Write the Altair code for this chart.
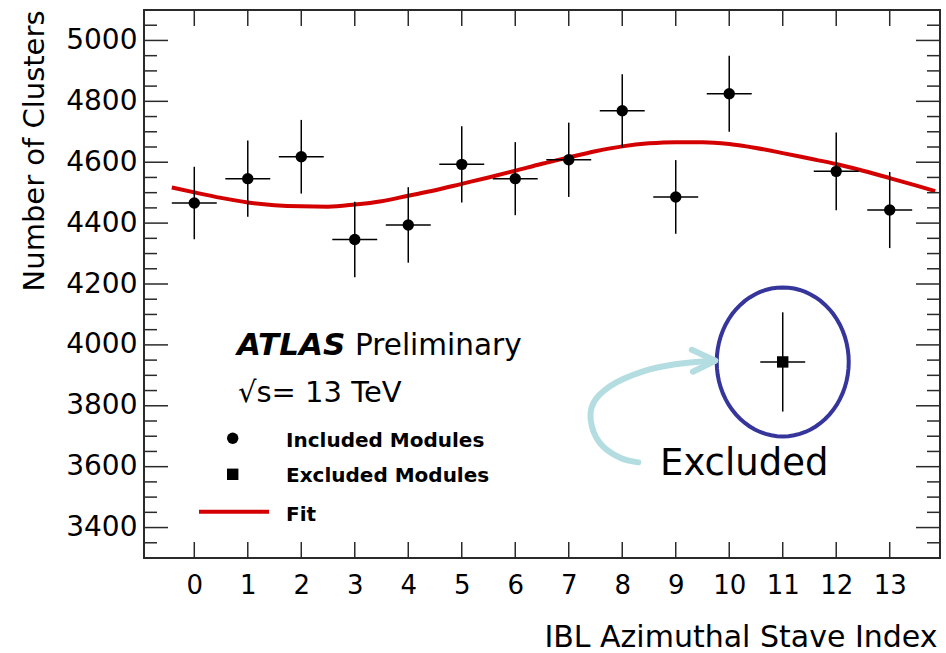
import altair as alt
import pandas as pd
import numpy as np

# ---------------- data ----------------
staves = list(range(14))
clusters = [4466, 4546, 4618, 4346, 4394, 4593, 4546, 4608, 4769, 4486, 4825, 3944, 4570, 4443]
errors = [119, 125, 121, 124, 124, 125, 120, 122, 120, 121, 125, 163, 128, 125]
status = ["Included"] * 11 + ["Excluded"] + ["Included"] * 2
x_half_width = 0.42

fit_x = [-0.42, 0, 0.5, 1, 1.5, 2, 2.5, 3, 3.5, 4, 4.5, 5, 5.5, 6, 6.5, 7, 7.5,
         8, 8.5, 9, 9.5, 10, 10.5, 11, 11.5, 12, 12.5, 13, 13.5, 13.85]
fit_y = [4517, 4501, 4483, 4468, 4459, 4455, 4454, 4461, 4472, 4490, 4508, 4529, 4550,
         4572, 4595, 4616, 4636, 4652, 4662, 4666, 4666, 4660, 4647, 4630, 4612, 4594,
         4572, 4548, 4523, 4505]

# annotation arrow (data coordinates)
arrow_x = [8.30, 7.96, 7.58, 7.41, 7.46, 7.77, 8.39, 9.02, 9.73]
arrow_y = [3614, 3629, 3678, 3754, 3809, 3864, 3913, 3937, 3949]
head_x = [9.30, 9.74, 9.32]
head_y = [3984, 3948, 3912]

x_ticks = staves
y_ticks_major = [3400, 3600, 3800, 4000, 4200, 4400, 4600, 4800, 5000]
y_ticks_minor = [3350, 3450, 3500, 3550, 3650, 3700, 3750, 3850, 3900, 3950, 4050, 4100,
                 4150, 4250, 4300, 4350, 4450, 4500, 4550, 4650, 4700, 4750, 4850, 4900,
                 4950, 5050]

# ---------------- layout ----------------
W, H = 796, 548
FONT = "DejaVu Sans"
FRAME = "#2a2a2a"
RED = "#d40000"

xscale = alt.Scale(domain=[-0.94, 13.94], nice=False, zero=False)
yscale = alt.Scale(domain=[3300, 5100], nice=False, zero=False)

x_axis = alt.Axis(values=x_ticks, ticks=False, domain=False, grid=False,
                  labelFont=FONT, labelFontSize=26, labelColor="black",
                  labelBaseline="alphabetic", labelPadding=35, labelFlush=False,
                  labelOverlap=False, title="IBL Azimuthal Stave Index",
                  titleFont=FONT, titleFontSize=30, titleFontWeight="normal",
                  titleColor="black", titleX=793, titleY=88, titleAlign="right",
                  titleBaseline="alphabetic")
y_axis = alt.Axis(values=y_ticks_major, format="d", ticks=False, domain=False, grid=False,
                  labelFont=FONT, labelFontSize=28, labelColor="black",
                  labelPadding=7, labelBaseline="middle",
                  title="Number of Clusters", titleFont=FONT, titleFontSize=29,
                  titleFontWeight="normal", titleColor="black", titleAngle=270,
                  titleX=-101, titleY=0, titleAlign="right", titleBaseline="alphabetic")


def X(field):
    return alt.X(field, scale=xscale, axis=x_axis)


def Y(field):
    return alt.Y(field, scale=yscale, axis=y_axis)


df = pd.DataFrame({"stave": staves, "n": clusters, "err": errors, "status": status})
df["lo"] = df["n"] - df["err"]
df["hi"] = df["n"] + df["err"]
df["xl"] = df["stave"] - x_half_width
df["xr"] = df["stave"] + x_half_width

fit_df = pd.DataFrame({"x": fit_x, "y": fit_y})
arrow_df = pd.DataFrame({"x": arrow_x, "y": arrow_y, "i": range(len(arrow_x))})
head_df = pd.DataFrame({"x": head_x, "y": head_y, "i": range(len(head_x))})

# fit curve
fit = alt.Chart(fit_df).mark_line(color=RED, strokeWidth=4, interpolate="monotone").encode(
    x=X("x:Q"), y=Y("y:Q"))

# error bars and points
ebar_v = alt.Chart(df).mark_rule(color="black", strokeWidth=1.5).encode(
    x=X("stave:Q"), y=Y("lo:Q"), y2="hi:Q")
ebar_h = alt.Chart(df).mark_rule(color="black", strokeWidth=1.5).encode(
    x=X("xl:Q"), x2="xr:Q", y=Y("n:Q"))
included = alt.Chart(df).transform_filter(alt.datum.status == "Included").mark_point(
    shape="circle", filled=True, color="black", size=130, opacity=1).encode(
    x=X("stave:Q"), y=Y("n:Q"))
excluded = alt.Chart(df).transform_filter(alt.datum.status == "Excluded").mark_point(
    shape="square", filled=True, color="black", size=130, opacity=1).encode(
    x=X("stave:Q"), y=Y("n:Q"))

# ellipse around the excluded module
t = np.linspace(0, 2 * np.pi, 73)
ell_path = "M " + " L ".join(f"{0.886*np.cos(a):.4f} {np.sin(a):.4f}" for a in t) + " Z"
ellipse = alt.Chart(df).transform_filter(alt.datum.status == "Excluded").mark_point(
    shape=ell_path, filled=False, stroke="#35359b", strokeWidth=4, size=149 ** 2, opacity=1).encode(
    x=X("stave:Q"), y=Y("n:Q"))

ARROW = "#b3dde0"
arrow = alt.Chart(arrow_df).mark_line(color=ARROW, strokeWidth=6, strokeCap="round",
                                      interpolate="catmull-rom").encode(
    x=X("x:Q"), y=Y("y:Q"), order="i:Q")
head = alt.Chart(head_df).mark_line(color=ARROW, strokeWidth=6, strokeCap="round",
                                    strokeJoin="round").encode(
    x=X("x:Q"), y=Y("y:Q"), order="i:Q")

# inward ticks
ymaj = pd.DataFrame({"v": y_ticks_major})
ymin = pd.DataFrame({"v": y_ticks_minor})
xt = pd.DataFrame({"v": x_ticks})
TK = dict(color=FRAME, strokeWidth=1.5)


def ytick(data, x0, x1):
    return alt.Chart(data).mark_rule(**TK).encode(
        y=Y("v:Q"), x=alt.value(x0), x2=alt.value(x1))


def xtick(data, y0, y1):
    return alt.Chart(data).mark_rule(**TK).encode(
        x=X("v:Q"), y=alt.value(y0), y2=alt.value(y1))


ticks = [ytick(ymaj, 0, 24), ytick(ymin, 0, 13), ytick(ymaj, W - 24, W), ytick(ymin, W - 13, W),
         xtick(xt, 0, 16), xtick(xt, H - 16, H)]


# texts
def label(txt, x, y, size, weight="normal", style="normal", color="black", font=FONT):
    return alt.Chart(pd.DataFrame({"a": [0]})).mark_text(
        text=txt, font=font, fontSize=size, fontWeight=weight, fontStyle=style,
        color=color, align="left", baseline="alphabetic").encode(
        x=alt.value(x), y=alt.value(y))


texts = [
    label("ATLAS", 93, 345, 31, weight="bold", style="italic"),
    label("Preliminary", 211, 345, 29.5),
    label("√s= 13 TeV", 94, 391.7, 29),
    label("Included Modules", 142, 436.7, 20, weight="bold"),
    label("Excluded Modules", 142, 471.7, 20, weight="bold"),
    label("Fit", 142, 511, 20, weight="bold"),
    label("Excluded", 516, 465, 37),
]

one = pd.DataFrame({"a": [0]})
leg_circle = alt.Chart(one).mark_point(shape="circle", filled=True, color="black", size=130,
                                       opacity=1).encode(x=alt.value(88.7), y=alt.value(428.3))
leg_square = alt.Chart(one).mark_point(shape="square", filled=True, color="black", size=130,
                                       opacity=1).encode(x=alt.value(88.7), y=alt.value(464.3))
leg_line = alt.Chart(one).mark_rule(color=RED, strokeWidth=4).encode(
    x=alt.value(55), x2=alt.value(125), y=alt.value(501.7))

chart = alt.layer(
    fit, *ticks, ebar_v, ebar_h, included, excluded, ellipse, arrow, head,
    *texts, leg_circle, leg_square, leg_line
).properties(
    width=W, height=H,
    autosize=alt.AutoSizeParams(type="none"),
    padding={"left": 144, "top": 10, "right": 6, "bottom": 95},
).configure(background="white").configure_view(stroke=FRAME, strokeWidth=2)

chart.save("out.html", embed_options={"renderer": "svg", "actions": False})
